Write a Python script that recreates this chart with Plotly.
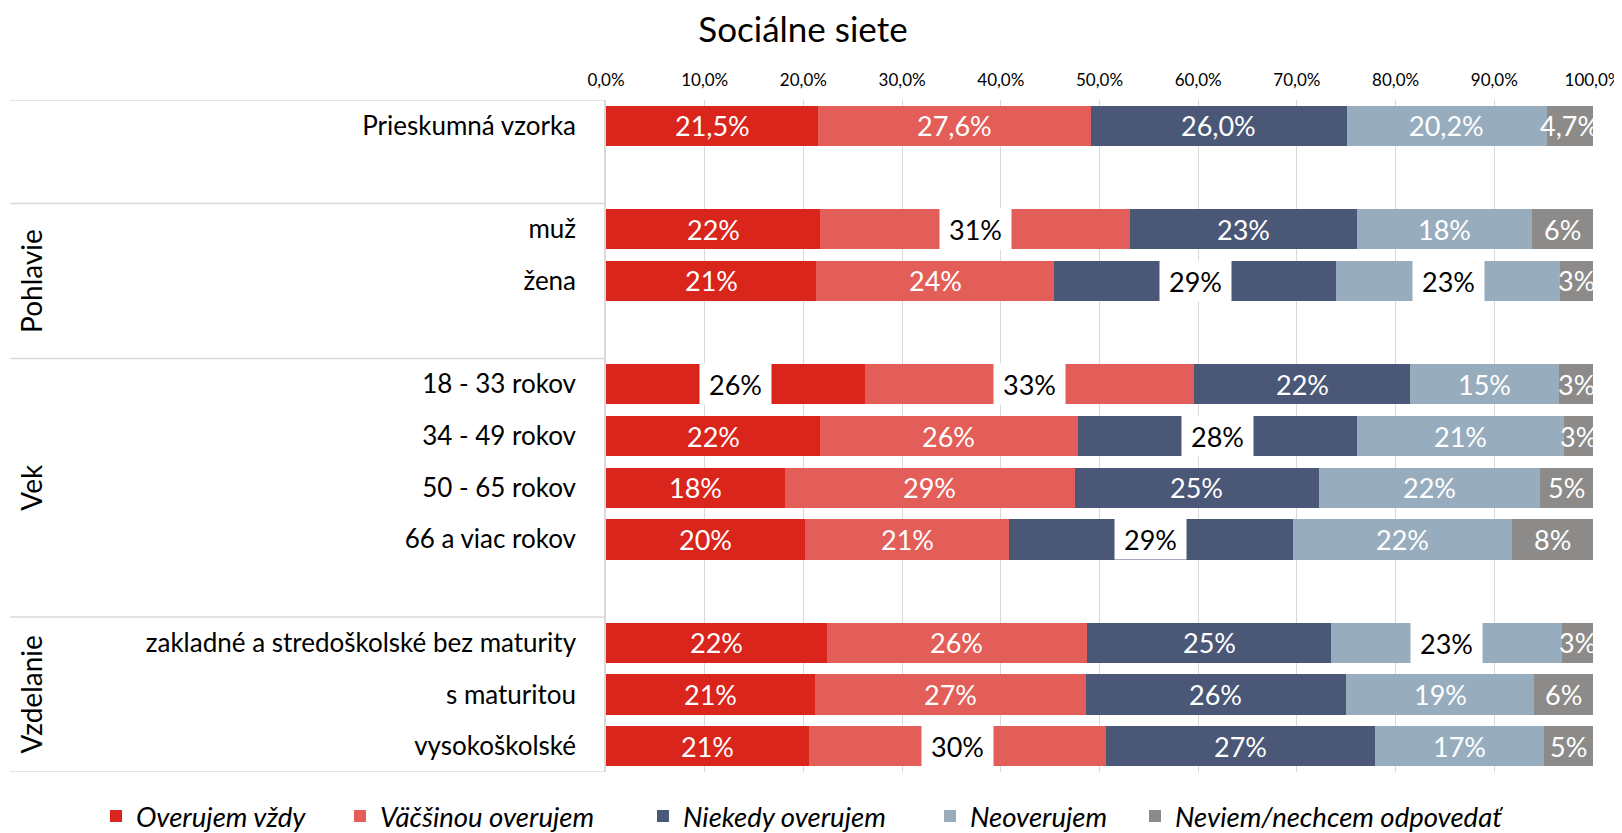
import plotly.graph_objects as go

# ---------------- data ----------------
series_names = ["Overujem vždy", "Väčšinou overujem", "Niekedy overujem",
                "Neoverujem", "Neviem/nechcem odpovedať"]
colors = ["#DA251D", "#E35E58", "#4A5777", "#97ADBE", "#8C8B89"]

groups = ["", "Pohlavie", "Vek", "Vzdelanie"]
group_rows = [
    ["Prieskumná vzorka"],
    ["muž", "žena"],
    ["18 - 33 rokov", "34 - 49 rokov", "50 - 65 rokov", "66 a viac rokov"],
    ["zakladné a stredoškolské bez maturity", "s maturitou", "vysokoškolské"],
]

overujem_vzdy = [21.5, 21.7, 21.3, 26.2, 21.7, 18.1, 20.2, 22.4, 21.2, 20.6]
vacsinou_overujem = [27.6, 31.4, 24.1, 33.4, 26.1, 29.4, 20.6, 26.3, 27.4, 30.1]
niekedy_overujem = [26.0, 23.0, 28.6, 21.9, 28.3, 24.7, 28.8, 24.8, 26.4, 27.2]
neoverujem = [20.2, 17.7, 22.7, 15.1, 21.0, 22.4, 22.2, 23.4, 19.0, 17.1]
neviem = [4.7, 6.2, 3.3, 3.4, 2.9, 5.4, 8.2, 3.1, 6.0, 5.0]

label_decimals = [1, 0, 0, 0, 0, 0, 0, 0, 0, 0]

# labels drawn in a white box (row name, series index)
boxed_labels = [("muž", 1), ("žena", 2), ("žena", 3), ("18 - 33 rokov", 0),
                ("18 - 33 rokov", 1), ("34 - 49 rokov", 2), ("66 a viac rokov", 2),
                ("zakladné a stredoškolské bez maturity", 3), ("vysokoškolské", 1)]

x_ticks = [0, 10, 20, 30, 40, 50, 60, 70, 80, 90, 100]
x_tick_labels = [f"{t:.1f}".replace(".", ",") + "%" for t in x_ticks]

# ---------------- layout of rows ----------------
series_values = [overujem_vzdy, vacsinou_overujem, niekedy_overujem, neoverujem, neviem]
rows, ypos, bounds = [], [], []
pos = 0
for gi, (g, rl) in enumerate(zip(groups, group_rows)):
    start = pos - 0.5
    for r in rl:
        rows.append(r)
        ypos.append(pos)
        pos += 1
    if gi < len(groups) - 1:
        pos += 1
    bounds.append((g, start, pos - 0.5))

FONT = "Lato, Carlito, Calibri, sans-serif"
GRID = "#D9D9D9"

# plot geometry (pixels, figure coordinates)
W, H = 1614, 825
L, R, T, B = 598, 29, 92, 61
pw = W - L - R
ph = H - T - B
left_line_x = (2 - L) / pw

# legend entry positions (figure px, left edge of each legend box)
legend_left_px = [88, 332, 635, 922, 1127]
legend_center_y_px = 808

legend_ids = ["legend", "legend2", "legend3", "legend4", "legend5"]

fig = go.Figure()
for name, vals, col, lid in zip(series_names, series_values, colors, legend_ids):
    fig.add_trace(go.Bar(
        y=ypos, x=vals, name=name, orientation="h",
        marker=dict(color=col, line=dict(width=0)), width=0.78,
        hoverinfo="skip", legend=lid,
    ))

annotations = []
for ri, r in enumerate(rows):
    cum = 0.0
    for si, vals in enumerate(series_values):
        v = vals[ri]
        mid = cum + v / 2
        cum += v
        txt = f"{v:.{label_decimals[ri]}f}".replace(".", ",") + "%"
        if (r, si) in boxed_labels:
            annotations.append(dict(x=mid, y=ypos[ri], xref="x", yref="y", text=txt,
                                    showarrow=False, bgcolor="white", width=71, height=40,
                                    borderpad=0, xanchor="center", yanchor="middle",
                                    font=dict(family=FONT, size=27, color="#000000")))
        else:
            annotations.append(dict(x=mid, y=ypos[ri], xref="x", yref="y", text=txt,
                                    showarrow=False, xanchor="center", yanchor="middle",
                                    font=dict(family=FONT, size=27, color="#FFFFFF")))

shapes = []
for g, s, e in bounds:
    shapes.append(dict(type="line", xref="paper", yref="y", x0=left_line_x, x1=0,
                       y0=s, y1=s, line=dict(color=GRID, width=1.5), layer="below"))
shapes.append(dict(type="line", xref="paper", yref="y", x0=left_line_x, x1=0,
                   y0=bounds[-1][2], y1=bounds[-1][2], line=dict(color=GRID, width=1.5)))

for g, s, e in bounds:
    if g:
        annotations.append(dict(x=(23 - L) / pw, y=(s + e) / 2, xref="paper", yref="y",
                                text=g, textangle=-90, showarrow=False,
                                xanchor="center", yanchor="middle",
                                font=dict(family=FONT, size=28, color="#000000")))

legend_layouts = {}
for lid, lx in zip(legend_ids, legend_left_px):
    legend_layouts[lid] = dict(
        orientation="h", xref="paper", x=(lx - L) / pw, xanchor="left",
        yref="paper", y=-(legend_center_y_px - (T + ph)) / ph, yanchor="middle",
        font=dict(family=FONT, size=27.5, color="#000000", style="italic"),
        itemclick=False, itemwidth=30, bgcolor="rgba(0,0,0,0)",
    )

fig.update_layout(
    width=W, height=H,
    margin=dict(l=L, r=R, t=T, b=B, autoexpand=False),
    plot_bgcolor="white", paper_bgcolor="white",
    barmode="stack",
    title=dict(text="Sociálne siete", x=795 / W, xref="container", xanchor="center",
               y=1 - 22 / H, yref="container", yanchor="middle", automargin=False,
               font=dict(family=FONT, size=35, color="#000000")),
    xaxis=dict(range=[0, 100], side="top", tickvals=x_ticks, ticktext=x_tick_labels,
               showgrid=True, gridcolor=GRID, gridwidth=1.3, automargin=False,
               zeroline=False, showline=False, ticks="", ticklabelstandoff=10,
               ticklabeloverflow="allow",
               tickfont=dict(family=FONT, size=17, color="#000000")),
    yaxis=dict(range=[12.5, -0.5], tickvals=ypos, ticktext=rows, showgrid=False,
               zeroline=False, showline=True, linecolor=GRID, linewidth=1.5, ticks="",
               ticklabelstandoff=23, automargin=False,
               tickfont=dict(family=FONT, size=26, color="#000000")),
    annotations=annotations, shapes=shapes,
    showlegend=True,
    **legend_layouts,
)

fig.write_html("out.html")
